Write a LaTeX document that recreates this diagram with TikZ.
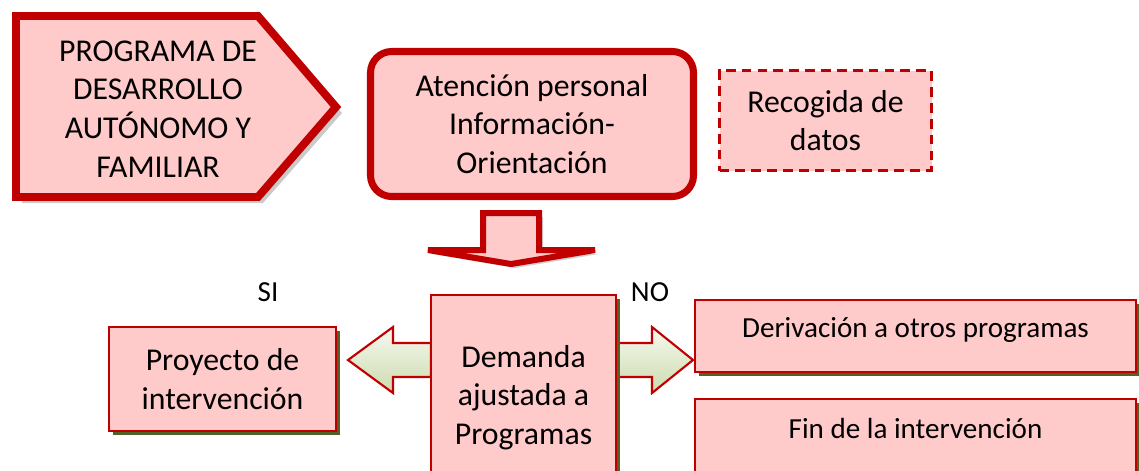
\documentclass[tikz,border=0pt]{standalone}
\usepackage{fontspec}
\setmainfont{Carlito}
\usetikzlibrary{positioning,shadows}
\definecolor{rojo}{HTML}{C00000}
\definecolor{rosa}{HTML}{FFCACA}
\definecolor{oliva}{HTML}{4F6228}
\definecolor{verdeA}{HTML}{F6F9F0}
\definecolor{verdeB}{HTML}{CCDBAE}
\newdimen\pxu \pxu=0.567pt
\tikzset{
  caja/.style={draw=rojo, line width=1.4pt, fill=rosa, align=center, inner sep=0pt,
    drop shadow={fill=oliva, opacity=1, shadow xshift=2.3pt, shadow yshift=-2.3pt}},
  flecha/.style={draw=rojo, line width=1.2pt, top color=verdeA, bottom color=verdeB, line join=miter},
  grande/.style={font=\fontsize{18}{22}\selectfont},
  chico/.style={font=\fontsize{16.5}{20}\selectfont},
}
\begin{document}
\begin{tikzpicture}[x=0.567pt, y=-0.567pt]
\useasboundingbox (0,0) rectangle (1139,470);
\clip (0,0) rectangle (1139,470);

% programa
\fill[black!35, opacity=.6] (22,22) -- (263,22) -- (342,113) -- (263,203) -- (22,203) -- cycle;
\draw[rojo, line width=4.5pt, fill=rosa, line join=miter] (16,16) -- (258,16) -- (336,107) -- (258,197) -- (16,197) -- cycle;
\node[grande, align=center] (prog) at (158,109) {PROGRAMA DE\\DESARROLLO\\AUTÓNOMO Y\\FAMILIAR};

\node[grande, draw=rojo, line width=4pt, fill=rosa, rounded corners=12pt, align=center,
  minimum width={323*\pxu}, minimum height={145*\pxu}] (aten) at (532,124) {Atención personal\\Información-\\Orientación};
\node[grande, draw=rojo, line width=1.7pt, dash pattern=on 5.5pt off 3.5pt, fill=rosa, align=center,
  minimum width={212*\pxu}, minimum height={100*\pxu}] (datos) at (825.5,120.5) {Recogida de\\datos};

% flecha abajo
\fill[black!30, opacity=.6] (487,217) -- (543,217) -- (543,254) -- (599,254) -- (515,268) -- (432,254) -- (487,254) -- cycle;
\draw[rojo, line width=3.4pt, fill=rosa, line join=miter] (483,213) -- (539,213) -- (539,250) -- (595,250) -- (511,264) -- (428,250) -- (483,250) -- cycle;

% flechas si / no
\draw[flecha] (431,343) -- (393,343) -- (393,327) -- (348,360) -- (393,393) -- (393,377) -- (431,377) -- cycle;
\draw[flecha] (616,343) -- (652,343) -- (652,327) -- (693,360) -- (652,393) -- (652,377) -- (616,377) -- cycle;

\node[grande, caja, minimum width={185*\pxu}, minimum height={205*\pxu}] (dem) at (523.5,397.5) {Demanda\\ajustada a\\Programas};
\node[grande, caja, minimum width={227*\pxu}, minimum height={104*\pxu}] (proy) at (222.5,379) {Proyecto de\\intervención};
\node[chico, caja, minimum width={441*\pxu}, minimum height={72*\pxu}] (der) at (915.5,336) {\raisebox{6\pxu}[\height][\depth]{Derivación a otros programas}};
\node[chico, caja, minimum width={441*\pxu}, minimum height={101*\pxu}] (fin) at (915.5,449.5) {\raisebox{21\pxu}[\height][\depth]{Fin de la intervención}};

\node[chico] (si) at (268,292) {SI};
\node[chico] (no) at (650,292) {NO};
\end{tikzpicture}
\end{document}
